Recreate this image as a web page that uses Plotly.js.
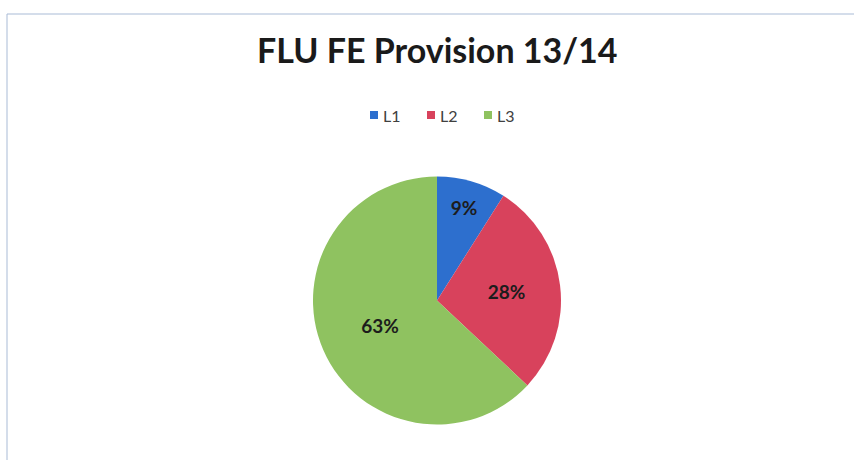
<!DOCTYPE html>
<html>
<head>
<meta charset="utf-8">
<script src="https://cdn.plot.ly/plotly-3.0.1.min.js"></script>
<style>html,body{margin:0;padding:0;background:#fff;}#chart{width:854px;height:460px;}</style>
</head>
<body>
<div id="chart"></div>
<script>
const labels = ["L1", "L2", "L3"];
const values = [9, 28, 63];
const colors = ["#2d6fce", "#d8425c", "#8fc260"];
const chartTitle = "FLU FE Provision 13/14";

const W = 854, H = 460;
const cx = 437, cy = 300.5, r = 124;

const trace = {
  type: "pie",
  labels: labels,
  values: values,
  sort: false,
  direction: "clockwise",
  rotation: 0,
  marker: {colors: colors, line: {width: 0}},
  textinfo: "percent",
  texttemplate: "%{percent:.0%}",
  textposition: "inside",
  insidetextorientation: "horizontal",
  textfont: {family: "Lato, 'Open Sans', sans-serif", size: 19, color: "#1c1c1c", weight: "bold"},
  hoverinfo: "label+percent",
  showlegend: false,
  domain: {x: [(cx - r) / W, (cx + r) / W], y: [1 - (cy + r) / H, 1 - (cy - r) / H]}
};

// custom legend row (squares + text), centred above the pie
const legStart = 370, legStep = 57, legY = 115, sq = 8;
const shapes = [{
  type: "rect", xref: "paper", yref: "paper",
  x0: 7 / W, x1: 1.01, y0: -0.01, y1: 1 - 14 / H,
  line: {color: "#a9bbd6", width: 1}
}];
const annotations = [];
labels.forEach((lab, i) => {
  const x = legStart + i * legStep;
  shapes.push({
    type: "rect", xref: "paper", yref: "paper",
    x0: x / W, x1: (x + sq) / W, y0: 1 - (legY + sq / 2) / H, y1: 1 - (legY - sq / 2) / H,
    fillcolor: colors[i], line: {width: 0}
  });
  annotations.push({
    xref: "paper", yref: "paper", x: (x + sq + 3) / W, y: 1 - legY / H,
    xanchor: "left", yanchor: "middle", showarrow: false, text: lab,
    font: {family: "Lato, 'Open Sans', sans-serif", size: 16, color: "#404040"}
  });
});

const layout = {
  width: W, height: H,
  margin: {l: 0, r: 0, t: 0, b: 0},
  paper_bgcolor: "#ffffff",
  title: {
    text: "<b>" + chartTitle + "</b>",
    x: 0.512, xanchor: "center",
    y: 1 - 51 / H, yanchor: "middle",
    font: {family: "Lato, 'Open Sans', sans-serif", size: 34, color: "#1a1a1a"}
  },
  showlegend: false,
  shapes: shapes,
  annotations: annotations
};

Plotly.newPlot("chart", [trace], layout, {displayModeBar: false, staticPlot: true});
</script>
</body>
</html>
